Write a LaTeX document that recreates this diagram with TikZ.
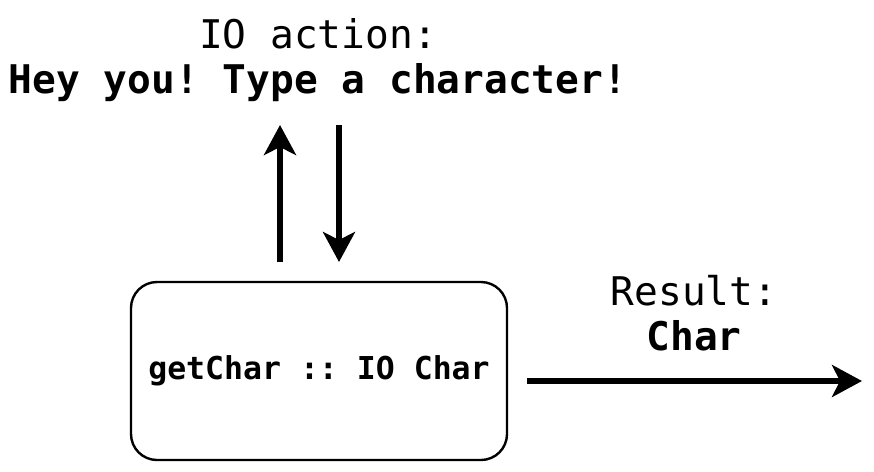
\documentclass[tikz,border=0pt]{standalone}
\usepackage{fontspec}
\setmonofont{DejaVu Sans Mono}
\usetikzlibrary{arrows.meta}
\begin{document}
\begin{tikzpicture}[x=1pt,y=-1pt,
  lbl/.style={font=\ttfamily\fontsize{39.5}{45}\selectfont, align=center, inner sep=0pt},
  lblb/.style={lbl, font=\ttfamily\bfseries\fontsize{39.5}{45}\selectfont},
  boxst/.style={draw, line width=2.4pt, rounded corners=26pt, minimum width=376pt, minimum height=178pt, inner sep=0pt, font=\ttfamily\bfseries\fontsize{31.5}{36}\selectfont},
  arr/.style={line width=5.5pt, -{Stealth[length=30pt,width=32pt,inset=8pt]}}]
\useasboundingbox (0,0) rectangle (874,471);
\node[boxst] (box) at (319,371) {getChar :: IO Char};
\node[lbl, anchor=base] (io1) at (318,48) {IO action:};
\node[lblb, anchor=base] (io2) at (318,93) {Hey you! Type a character!};
\node[lbl, anchor=base] (r1) at (694,305) {Result:};
\node[lblb, anchor=base] (r2) at (694,350) {Char};
\coordinate (ua) at (280,262);
\coordinate (ub) at (280,125);
\coordinate (da) at (339,125);
\coordinate (db) at (339,262);
\coordinate (ra) at (527,381);
\coordinate (rb) at (862,381);
\draw[arr] (ua) -- (ub);
\draw[arr] (da) -- (db);
\draw[arr] (ra) -- (rb);
\end{tikzpicture}
\end{document}
